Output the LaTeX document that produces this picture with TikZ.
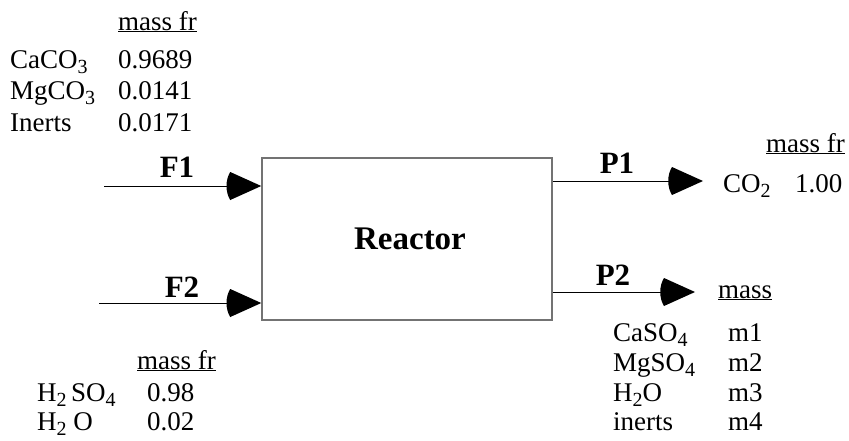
\documentclass[tikz,border=0pt]{standalone}
\usepackage{fontspec}
\setmainfont{Liberation Serif}
\newcommand\dn[1]{\raisebox{-0.22em}{\fontsize{20}{20}\selectfont #1}}
\pgfdeclarearrow{
  name=Blob,
  setup code={
    \pgfarrowssettipend{0pt}
    \pgfarrowssetlineend{-20pt}
    \pgfarrowssetbackend{-35pt}
    \pgfarrowssetvisualbackend{-30pt}
    \pgfarrowshullpoint{0pt}{0pt}
    \pgfarrowshullpoint{-35pt}{14pt}
    \pgfarrowshullpoint{-35pt}{-14pt}
  },
  drawing code={
    \pgfpathmoveto{\pgfpoint{0pt}{0pt}}
    \pgfpathlineto{\pgfpoint{-31pt}{14pt}}
    \pgfpathcurveto{\pgfpoint{-36pt}{6pt}}{\pgfpoint{-36pt}{-6pt}}{\pgfpoint{-31pt}{-14pt}}
    \pgfpathclose
    \pgfusepathqfill
  },
}
\tikzset{
  txt/.style={anchor=base west, inner sep=0pt, font=\fontsize{27}{32}\selectfont},
  lbl/.style={anchor=base, inner sep=0pt, font=\fontsize{31}{36}\selectfont\bfseries},
  flow/.style={draw=black, line width=0.9pt, -Blob},
  box/.style={draw=black!55, line width=1.5pt, minimum width=290, minimum height=162, inner sep=0pt, font=\fontsize{33}{40}\selectfont\bfseries},
}
\begin{document}
\begin{tikzpicture}[x=1pt,y=-1pt]
\useasboundingbox (0,0) rectangle (849,440);
% reactor
\node[box] (reactor) at (407,239) {\hspace{6pt}Reactor};
% streams
\coordinate (f1) at (104,186);
\coordinate (f2) at (99,303);
\coordinate (p1) at (703,181);
\coordinate (p2) at (695,292);
\draw[flow] (f1) -- (reactor.west |- f1);
\draw[flow] (f2) -- (reactor.west |- f2);
\draw[flow] (reactor.east |- p1) -- (p1);
\draw[flow] (reactor.east |- p2) -- (p2);
\node[lbl] (lf1) at (177,177) {F1};
\node[lbl] (lf2) at (182,297) {F2};
\node[lbl] (lp1) at (617,173) {P1};
\node[lbl] (lp2) at (613,285) {P2};
% feed F1 table
\node[txt] (h1) at (118,30) {\underline{mass fr}};
\node[txt] (a1) at (10,68) {CaCO\dn{3}};
\node[txt] (a2) at (118,68) {0.9689};
\node[txt] (b1) at (10,99) {MgCO\dn{3}};
\node[txt] (b2) at (118,99) {0.0141};
\node[txt] (c1) at (10,131) {Inerts};
\node[txt] (c2) at (118,131) {0.0171};
% feed F2 table
\node[txt] (h2) at (137,369) {\underline{mass fr}};
\node[txt] (d1) at (37,401) {H\dn{2}\,SO\dn{4}};
\node[txt] (d2) at (147,401) {0.98};
\node[txt] (e1) at (37,430) {H\dn{2} O};
\node[txt] (e2) at (147,430) {0.02};
% product P1 table
\node[txt] (h3) at (766,152) {\underline{mass fr}};
\node[txt] (g1) at (723,192) {CO\dn{2}};
\node[txt] (g2) at (795,192) {1.00};
% product P2 table
\node[txt] (h4) at (718,298) {\underline{mass}};
\node[txt] (k1) at (613,341) {CaSO\dn{4}};
\node[txt] (k2) at (728,341) {m1};
\node[txt] (l1) at (613,371) {MgSO\dn{4}};
\node[txt] (l2) at (728,371) {m2};
\node[txt] (m1) at (613,401) {H\dn{2}O};
\node[txt] (m2) at (728,401) {m3};
\node[txt] (n1) at (613,430) {inerts};
\node[txt] (n2) at (728,430) {m4};
\end{tikzpicture}
\end{document}
